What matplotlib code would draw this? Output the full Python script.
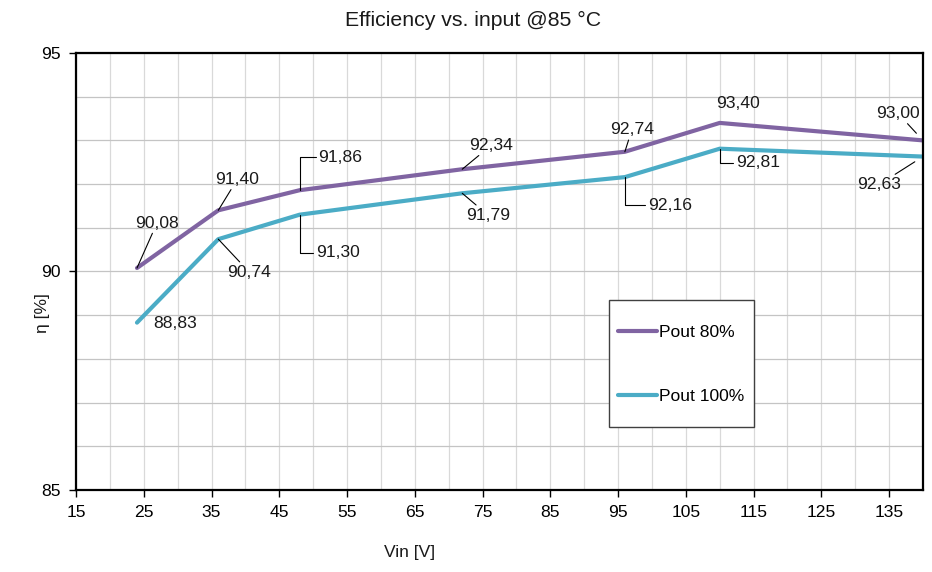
import matplotlib
matplotlib.use("Agg")
import matplotlib.pyplot as plt
from matplotlib.ticker import MultipleLocator, FixedLocator
from matplotlib.patches import Rectangle

plt.rcParams['font.family'] = ['Liberation Sans', 'DejaVu Sans']

# ---- data ----
vin = [24, 36, 48, 72, 96, 110, 140]
eff_80 = [90.08, 91.40, 91.86, 92.34, 92.74, 93.40, 93.00]
eff_100 = [88.83, 90.74, 91.30, 91.79, 92.16, 92.81, 92.63]
series_names = ["Pout 80%", "Pout 100%"]
xticks = [15, 25, 35, 45, 55, 65, 75, 85, 95, 105, 115, 125, 135]
yticks = [85, 90, 95]
title = "Efficiency vs. input @85 °C"
xlabel = "Vin [V]"
ylabel = "η [%]"

# ---- styles ----
W, H = 932, 572
DPI = 100
c80 = "#8064A2"
c100 = "#4BACC6"
FS = 12.6

fig = plt.figure(figsize=(W / DPI, H / DPI), dpi=DPI)
L, R, T, B = 76, 923, 53, 490
ax = fig.add_axes([L / W, 1 - B / H, (R - L) / W, (B - T) / H])

ax.set_xlim(15, 140)
ax.set_ylim(85, 95)
ax.xaxis.set_major_locator(FixedLocator(xticks))
ax.xaxis.set_minor_locator(MultipleLocator(5))
ax.yaxis.set_major_locator(FixedLocator(yticks))
ax.yaxis.set_minor_locator(MultipleLocator(1))
ax.grid(True, which='both', axis='x', color='#d9d9d9', lw=0.9)
ax.grid(True, which='both', axis='y', color='#c4c4c4', lw=0.9)
ax.set_axisbelow(True)
ax.tick_params(which='minor', length=0)
ax.tick_params(which='major', direction='out', length=5, width=1.0, labelsize=FS, colors='black', pad=6)
for s in ax.spines.values():
    s.set_linewidth(1.6)
    s.set_color('black')

ax.plot(vin, eff_80, color=c80, lw=3.0, label=series_names[0], solid_capstyle='round')
ax.plot(vin, eff_100, color=c100, lw=3.0, label=series_names[1], solid_capstyle='round')

# data labels: offsets in pixels (dx, dy), leader style
lab80 = [(20, 45, 'line'), (19, 31, 'line'), (41, 33, 'elbow'), (29, 24, 'line'),
         (7, 22, 'line'), (18, 19, None), (-25, 27, 'line')]
lab100 = [(38, -1, None), (31, -33, 'line'), (38, -38, 'elbow'), (26, -22, 'line'),
          (45, -28, 'elbow'), (38, -14, 'elbow'), (-44, -28, 'line')]

def fmt(v):
    return f"{v:.2f}".replace('.', ',')

for ys, labs in ((eff_80, lab80), (eff_100, lab100)):
    for i, (x, y) in enumerate(zip(vin, ys)):
        dx, dy, style = labs[i]
        shrinkB = 7 if x >= 140 else 0
        if style == 'line':
            ap = dict(arrowstyle='-', color='black', lw=0.8, shrinkA=0, shrinkB=shrinkB)
        elif style == 'elbow':
            ap = dict(arrowstyle='-', color='black', lw=0.8, shrinkA=0, shrinkB=0,
                      connectionstyle='angle,angleA=0,angleB=90,rad=0')
        else:
            ap = None
        ax.annotate(fmt(y), xy=(x, y), xytext=(dx, dy), textcoords='offset pixels',
                    ha='center', va='center', fontsize=FS, color='#1a1a1a',
                    arrowprops=ap, annotation_clip=False)

# legend (frame drawn separately, inside the axes so it stays beneath the legend)
frame = Rectangle((609 / W, 1 - 427 / H), (754 - 609) / W, (427 - 300) / H,
                  transform=fig.transFigure, facecolor='white', edgecolor='#404040',
                  lw=1.0, zorder=5, clip_on=False)
ax.add_patch(frame)
leg = ax.legend(loc='upper left', bbox_to_anchor=(618 / W, 1 - 325 / H),
                bbox_transform=fig.transFigure, fontsize=FS, frameon=False,
                borderpad=0, handlelength=2.2, handletextpad=0.15,
                labelspacing=2.75, borderaxespad=0)
leg.set_zorder(6)

fig.text(473 / W, 1 - 20 / H, title, ha='center', va='center', fontsize=15.3, color='#1a1a1a')
fig.text(410 / W, 1 - 552 / H, xlabel, ha='center', va='center', fontsize=FS, color='#1a1a1a')
fig.text(42 / W, 1 - 313 / H, ylabel, ha='center', va='center', rotation=90, fontsize=FS, color='#1a1a1a')

fig.savefig('out.png', dpi=DPI)
